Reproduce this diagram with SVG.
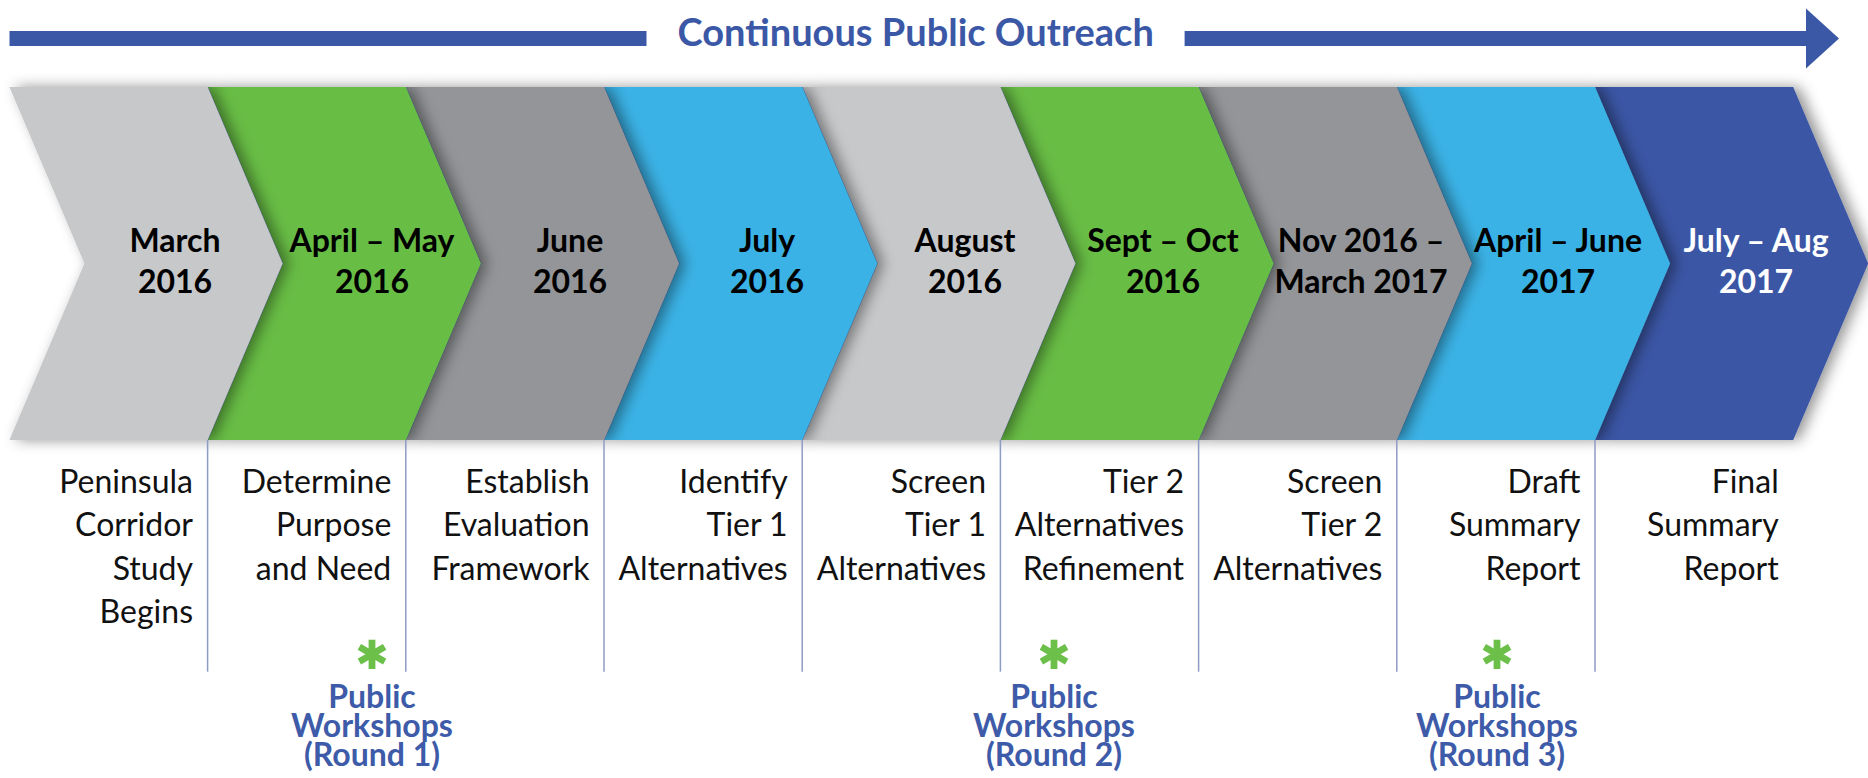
<svg xmlns="http://www.w3.org/2000/svg" width="1868" height="778" viewBox="0 0 1868 778">
<style>
text{font-family:Lato,"Liberation Sans",sans-serif}
.date{font-weight:700;font-size:32px;text-anchor:middle;fill:#000}
.desc{font-size:32px;text-anchor:end;fill:#111}
.ws{font-weight:700;font-size:32px;text-anchor:middle;fill:#3d5ba8}
.ast{font-size:80px;fill:#6cc04a;stroke:#6cc04a;stroke-width:2}
.title{font-weight:700;font-size:38px;text-anchor:middle;fill:#3b58a6}
.notch{fill:none;stroke:#40589e;stroke-width:0.9}
.div{stroke:#8e9bc4;stroke-width:1.5}
.c0{fill:#c7c8ca}.c1{fill:#67bd45}.c2{fill:#939598}.c3{fill:#3ab2e5}.c4{fill:#3b57a5}
</style>
<defs>
<filter id="sh" x="-20%" y="-10%" width="140%" height="120%">
<feDropShadow dx="6" dy="0" stdDeviation="7" flood-color="#000" flood-opacity="0.42"/>
</filter>
</defs>
<rect width="1868" height="778" fill="#fff"/>
<g id="outreach">
<rect x="9.5" y="31" width="637" height="15" fill="#3b58a6"/>
<rect x="1184.6" y="31" width="623" height="15" fill="#3b58a6"/>
<polygon points="1806,8.5 1839,38.5 1806,68.5" fill="#3b58a6"/>
<text class="title" x="915.7" y="46">Continuous Public Outreach</text>
</g>
<g id="node8">
<polygon class="c4" filter="url(#sh)" points="1595,87 1793.2,87 1868.2,263.5 1793.2,440 1595,440 1670,263.5"/>
<polyline class="notch" points="1595,87 1670,263.5 1595,440"/>
<text class="date" style="fill:#fff"><tspan x="1756" y="251.7">July – Aug</tspan><tspan x="1756" y="292.7">2017</tspan></text>
<text class="desc"><tspan x="1778.7" y="492.5">Final</tspan><tspan x="1778.7" y="536">Summary</tspan><tspan x="1778.7" y="579.5">Report</tspan></text>
</g>
<g id="node7">
<polygon class="c3" filter="url(#sh)" points="1396.8,87 1595,87 1670,263.5 1595,440 1396.8,440 1471.8,263.5"/>
<polyline class="notch" points="1396.8,87 1471.8,263.5 1396.8,440"/>
<text class="date"><tspan x="1558" y="251.7">April – June</tspan><tspan x="1558" y="292.7">2017</tspan></text>
<text class="desc"><tspan x="1580.5" y="492.5">Draft</tspan><tspan x="1580.5" y="536">Summary</tspan><tspan x="1580.5" y="579.5">Report</tspan></text>
</g>
<g id="node6">
<polygon class="c2" filter="url(#sh)" points="1198.6,87 1396.8,87 1471.8,263.5 1396.8,440 1198.6,440 1273.6,263.5"/>
<polyline class="notch" points="1198.6,87 1273.6,263.5 1198.6,440"/>
<text class="date"><tspan x="1361" y="251.7">Nov 2016 –</tspan><tspan x="1361" y="292.7">March 2017</tspan></text>
<text class="desc"><tspan x="1382.3" y="492.5">Screen</tspan><tspan x="1382.3" y="536">Tier 2</tspan><tspan x="1382.3" y="579.5">Alternatives</tspan></text>
</g>
<g id="node5">
<polygon class="c1" filter="url(#sh)" points="1000.4,87 1198.6,87 1273.6,263.5 1198.6,440 1000.4,440 1075.4,263.5"/>
<polyline class="notch" points="1000.4,87 1075.4,263.5 1000.4,440"/>
<text class="date"><tspan x="1163" y="251.7">Sept – Oct</tspan><tspan x="1163" y="292.7">2016</tspan></text>
<text class="desc"><tspan x="1184" y="492.5">Tier 2</tspan><tspan x="1184" y="536">Alternatives</tspan><tspan x="1184" y="579.5">Refinement</tspan></text>
</g>
<g id="node4">
<polygon class="c0" filter="url(#sh)" points="802.2,87 1000.4,87 1075.4,263.5 1000.4,440 802.2,440 877.2,263.5"/>
<polyline class="notch" points="802.2,87 877.2,263.5 802.2,440"/>
<text class="date"><tspan x="965" y="251.7">August</tspan><tspan x="965" y="292.7">2016</tspan></text>
<text class="desc"><tspan x="986" y="492.5">Screen</tspan><tspan x="986" y="536">Tier 1</tspan><tspan x="986" y="579.5">Alternatives</tspan></text>
</g>
<g id="node3">
<polygon class="c3" filter="url(#sh)" points="604,87 802.2,87 877.2,263.5 802.2,440 604,440 679,263.5"/>
<polyline class="notch" points="604,87 679,263.5 604,440"/>
<text class="date"><tspan x="767" y="251.7">July</tspan><tspan x="767" y="292.7">2016</tspan></text>
<text class="desc"><tspan x="787.7" y="492.5">Identify</tspan><tspan x="787.7" y="536">Tier 1</tspan><tspan x="787.7" y="579.5">Alternatives</tspan></text>
</g>
<g id="node2">
<polygon class="c2" filter="url(#sh)" points="405.8,87 604,87 679,263.5 604,440 405.8,440 480.8,263.5"/>
<polyline class="notch" points="405.8,87 480.8,263.5 405.8,440"/>
<text class="date"><tspan x="570" y="251.7">June</tspan><tspan x="570" y="292.7">2016</tspan></text>
<text class="desc"><tspan x="589.5" y="492.5">Establish</tspan><tspan x="589.5" y="536">Evaluation</tspan><tspan x="589.5" y="579.5">Framework</tspan></text>
</g>
<g id="node1">
<polygon class="c1" filter="url(#sh)" points="207.6,87 405.8,87 480.8,263.5 405.8,440 207.6,440 282.6,263.5"/>
<polyline class="notch" points="207.6,87 282.6,263.5 207.6,440"/>
<text class="date"><tspan x="372" y="251.7">April – May</tspan><tspan x="372" y="292.7">2016</tspan></text>
<text class="desc"><tspan x="391.3" y="492.5">Determine</tspan><tspan x="391.3" y="536">Purpose</tspan><tspan x="391.3" y="579.5">and Need</tspan></text>
</g>
<g id="node0">
<polygon class="c0" filter="url(#sh)" points="9.4,87 207.6,87 282.6,263.5 207.6,440 9.4,440 84.4,263.5"/>
<text class="date"><tspan x="175" y="251.7">March</tspan><tspan x="175" y="292.7">2016</tspan></text>
<text class="desc"><tspan x="193" y="492.5">Peninsula</tspan><tspan x="193" y="536">Corridor</tspan><tspan x="193" y="579.5">Study</tspan><tspan x="193" y="623">Begins</tspan></text>
</g>
<g id="connectors">
<line class="div" x1="207.6" y1="440" x2="207.6" y2="671.7"/>
<line class="div" x1="405.8" y1="440" x2="405.8" y2="671.7"/>
<line class="div" x1="604" y1="440" x2="604" y2="671.7"/>
<line class="div" x1="802.2" y1="440" x2="802.2" y2="671.7"/>
<line class="div" x1="1000.4" y1="440" x2="1000.4" y2="671.7"/>
<line class="div" x1="1198.6" y1="440" x2="1198.6" y2="671.7"/>
<line class="div" x1="1396.8" y1="440" x2="1396.8" y2="671.7"/>
<line class="div" x1="1595" y1="440" x2="1595" y2="671.7"/>
</g>
<g id="workshop1">
<text class="ws"><tspan class="ast" x="372" y="702">*</tspan><tspan x="372" y="708">Public</tspan><tspan x="372" y="737">Workshops</tspan><tspan x="372" y="765.5">(Round 1)</tspan></text>
</g>
<g id="workshop2">
<text class="ws"><tspan class="ast" x="1054" y="702">*</tspan><tspan x="1054" y="708">Public</tspan><tspan x="1054" y="737">Workshops</tspan><tspan x="1054" y="765.5">(Round 2)</tspan></text>
</g>
<g id="workshop3">
<text class="ws"><tspan class="ast" x="1497" y="702">*</tspan><tspan x="1497" y="708">Public</tspan><tspan x="1497" y="737">Workshops</tspan><tspan x="1497" y="765.5">(Round 3)</tspan></text>
</g>
</svg>
